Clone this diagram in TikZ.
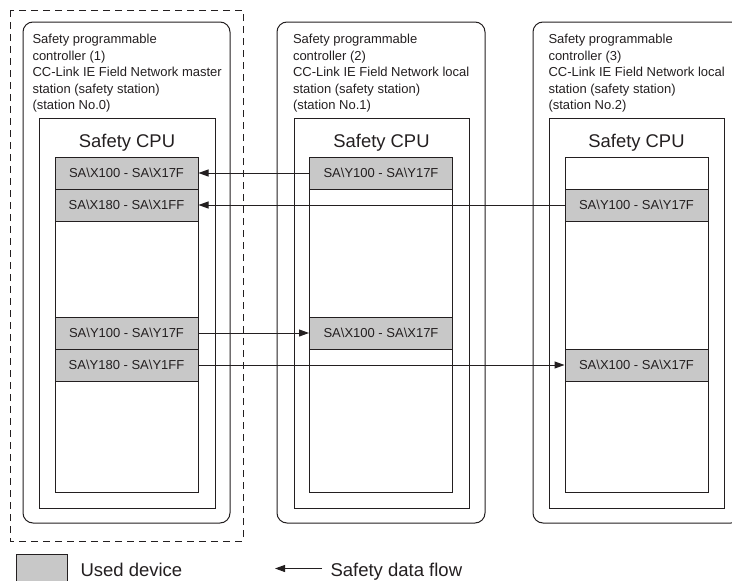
\documentclass[tikz,border=0pt]{standalone}
\usepackage{fontspec}
\setmainfont{Liberation Sans}
\usepackage{tikz}
\usetikzlibrary{arrows.meta}
\definecolor{usedgr}{RGB}{200,200,200}
\definecolor{linegr}{RGB}{35,31,32}

\begin{document}
\begin{tikzpicture}[x=1pt,y=-1pt,line width=1pt,
  every node/.style={font=\fontsize{13}{16.4}\selectfont,text=linegr,inner sep=0pt},
  station/.style={draw=linegr,rounded corners=10pt},
  cpubox/.style={draw=linegr},
  cell/.style={draw=linegr,minimum width=143pt,minimum height=32pt},
  used/.style={cell,fill=usedgr},
  flow/.style={draw=linegr,-{Triangle[length=10pt,width=7pt]}},
  header/.style={align=left,anchor=north west},
  cpulabel/.style={font=\fontsize{18.4}{22}\selectfont,anchor=base},
  legend/.style={font=\fontsize{18.5}{22}\selectfont,anchor=base west}]

    \useasboundingbox (0,0) rectangle (732,581);
    \clip (0,0) rectangle (732,581);

    % Master station frame (dashed)
    \draw[linegr,dash pattern=on 7pt off 5pt] (10,10) rectangle (243,541);

    % Station frames
    \draw[station] ( 23,22) rectangle (230,523);
    \draw[station] (277,22) rectangle (485,523);
    \draw[station] (533,22) rectangle (741,523);

    % Station texts
    \node[header] (hdr1) at ( 32,34) {Safety programmable\\controller (1)\\CC-Link IE Field Network master\\station (safety station)\\(station No.0)};
    \node[header] (hdr2) at (292.5,34) {Safety programmable\\controller (2)\\CC-Link IE Field Network local\\station (safety station)\\(station No.1)};
    \node[header] (hdr3) at (548,34) {Safety programmable\\controller (3)\\CC-Link IE Field Network local\\station (safety station)\\(station No.2)};

    % CPU boxes
    \draw[cpubox] ( 39,118) rectangle (215,508);
    \draw[cpubox] (294,118) rectangle (469,508);
    \draw[cpubox] (549,118) rectangle (724,508);
    \node[cpulabel] (cpu1) at (127,147.5) {Safety CPU};
    \node[cpulabel] (cpu2) at (381.5,147.5) {Safety CPU};
    \node[cpulabel] (cpu3) at (636.5,147.5) {Safety CPU};

    % Device columns
    \draw[linegr] ( 55,157) rectangle (198,492);
    \draw[linegr] (309.5,157) rectangle (452.5,492);
    \draw[linegr] (565,157) rectangle (708,492);

    % Used devices, station 1
    \node[used] (c1r1) at (126.5,173) {SA\textbackslash X100 - SA\textbackslash X17F};
    \node[used] (c1r2) at (126.5,205) {SA\textbackslash X180 - SA\textbackslash X1FF};
    \node[used] (c1r3) at (126.5,333) {SA\textbackslash Y100 - SA\textbackslash Y17F};
    \node[used] (c1r4) at (126.5,365) {SA\textbackslash Y180 - SA\textbackslash Y1FF};

    % Used devices, station 2
    \node[used] (c2r1) at (381,173) {SA\textbackslash Y100 - SA\textbackslash Y17F};
    \node[used] (c2r3) at (381,333) {SA\textbackslash X100 - SA\textbackslash X17F};

    % Used devices, station 3
    \node[cell] (c3r1) at (636.5,173) {};
    \node[used] (c3r2) at (636.5,205) {SA\textbackslash Y100 - SA\textbackslash Y17F};
    \node[used] (c3r4) at (636.5,365) {SA\textbackslash X100 - SA\textbackslash X17F};

    % Safety data flow
    \draw[flow] (c2r1.west) -- (c1r1.east);
    \draw[flow] (c3r2.west) -- (c1r2.east);
    \draw[flow] (c1r3.east) -- (c2r3.west);
    \draw[flow] (c1r4.east) -- (c3r4.west);

    % Legend
    \node[draw=linegr,fill=usedgr,minimum width=51pt,minimum height=42pt] (usedbox) at (41.5,575) {};
    \node[legend] (usedtxt) at (80,576.5) {Used device};
    \node[legend] (flowtxt) at (330,576.5) {Safety data flow};
    \coordinate (flowtip) at (275,568.5);
    \draw[flow,shorten <=8pt] (flowtxt.west |- flowtip) -- (flowtip);

  \end{tikzpicture}
\end{document}
